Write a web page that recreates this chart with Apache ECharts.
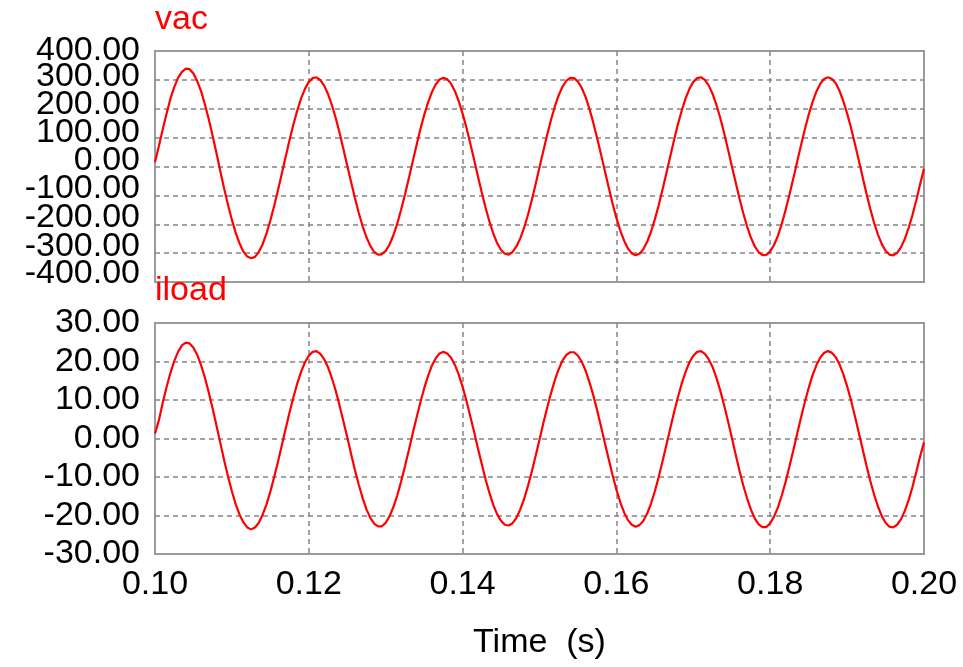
<!DOCTYPE html>
<html>
<head>
<meta charset="utf-8">
<script src="https://cdn.jsdelivr.net/npm/echarts@6/dist/echarts.min.js"></script>
<style>
  html, body { margin: 0; padding: 0; background: #fff; }
  #main { width: 963px; height: 667px; }
</style>
</head>
<body>
<div id="main"></div>
<script>
// Simulation time base (s), one sample every 0.5 ms
const timeS = [
  0.1000,0.1005,0.1010,0.1015,0.1020,0.1025,0.1030,0.1035,0.1040,0.1045,
  0.1050,0.1055,0.1060,0.1065,0.1070,0.1075,0.1080,0.1085,0.1090,0.1095,
  0.1100,0.1105,0.1110,0.1115,0.1120,0.1125,0.1130,0.1135,0.1140,0.1145,
  0.1150,0.1155,0.1160,0.1165,0.1170,0.1175,0.1180,0.1185,0.1190,0.1195,
  0.1200,0.1205,0.1210,0.1215,0.1220,0.1225,0.1230,0.1235,0.1240,0.1245,
  0.1250,0.1255,0.1260,0.1265,0.1270,0.1275,0.1280,0.1285,0.1290,0.1295,
  0.1300,0.1305,0.1310,0.1315,0.1320,0.1325,0.1330,0.1335,0.1340,0.1345,
  0.1350,0.1355,0.1360,0.1365,0.1370,0.1375,0.1380,0.1385,0.1390,0.1395,
  0.1400,0.1405,0.1410,0.1415,0.1420,0.1425,0.1430,0.1435,0.1440,0.1445,
  0.1450,0.1455,0.1460,0.1465,0.1470,0.1475,0.1480,0.1485,0.1490,0.1495,
  0.1500,0.1505,0.1510,0.1515,0.1520,0.1525,0.1530,0.1535,0.1540,0.1545,
  0.1550,0.1555,0.1560,0.1565,0.1570,0.1575,0.1580,0.1585,0.1590,0.1595,
  0.1600,0.1605,0.1610,0.1615,0.1620,0.1625,0.1630,0.1635,0.1640,0.1645,
  0.1650,0.1655,0.1660,0.1665,0.1670,0.1675,0.1680,0.1685,0.1690,0.1695,
  0.1700,0.1705,0.1710,0.1715,0.1720,0.1725,0.1730,0.1735,0.1740,0.1745,
  0.1750,0.1755,0.1760,0.1765,0.1770,0.1775,0.1780,0.1785,0.1790,0.1795,
  0.1800,0.1805,0.1810,0.1815,0.1820,0.1825,0.1830,0.1835,0.1840,0.1845,
  0.1850,0.1855,0.1860,0.1865,0.1870,0.1875,0.1880,0.1885,0.1890,0.1895,
  0.1900,0.1905,0.1910,0.1915,0.1920,0.1925,0.1930,0.1935,0.1940,0.1945,
  0.1950,0.1955,0.1960,0.1965,0.1970,0.1975,0.1980,0.1985,0.1990,0.1995,
  0.2000
];

// Source voltage vac (V)
const vac = [
  15,70,128,183,234,275,307,328,339,337,
  322,295,260,214,163,106,46,-17,-77,-133,
  -185,-230,-267,-295,-312,-318,-313,-296,-269,-232,
  -187,-136,-81,-23,35,92,146,194,236,269,
  293,306,309,299,280,251,213,168,117,61,
  3,-54,-109,-161,-207,-245,-275,-296,-305,-304,
  -292,-270,-238,-198,-150,-98,-42,16,73,128,
  178,221,257,284,301,307,302,287,261,226,
  183,134,80,23,-35,-91,-144,-192,-233,-266,
  -289,-302,-305,-296,-277,-249,-212,-167,-116,-61,
  -3,54,110,162,208,247,277,297,307,306,
  294,272,240,199,151,98,42,-16,-73,-128,
  -178,-221,-257,-284,-301,-307,-302,-287,-261,-226,
  -183,-134,-80,-23,35,92,146,194,236,269,
  293,306,309,300,281,252,214,169,117,61,
  3,-54,-110,-162,-208,-247,-277,-297,-307,-306,
  -294,-272,-240,-199,-151,-98,-42,16,73,128,
  179,223,259,286,303,309,304,289,263,227,
  184,135,80,23,-35,-92,-145,-194,-235,-268,
  -292,-305,-308,-299,-280,-251,-213,-168,-117,-61,
  -8
];

// Load current iload (A)
const iload = [
  1.3,4.7,9.2,13.3,17.0,20.1,22.5,24.2,24.9,24.7,
  23.6,21.7,19.0,15.7,11.9,7.7,3.3,-1.2,-5.7,-9.9,
  -13.7,-17.1,-19.8,-21.8,-23.1,-23.6,-23.1,-21.9,-19.8,-17.1,
  -13.8,-10.0,-6.0,-1.7,2.6,6.8,10.7,14.3,17.3,19.8,
  21.5,22.5,22.7,22.0,20.6,18.5,15.7,12.4,8.6,4.5,
  0.3,-4.0,-8.2,-12.0,-15.5,-18.4,-20.6,-22.1,-22.8,-22.8,
  -21.9,-20.2,-17.8,-14.8,-11.2,-7.3,-3.1,1.2,5.3,9.3,
  13.0,16.2,18.9,20.8,22.1,22.5,22.1,21.0,19.1,16.6,
  13.4,9.8,5.8,1.7,-2.6,-6.7,-10.7,-14.2,-17.3,-19.7,
  -21.4,-22.4,-22.6,-22.0,-20.6,-18.4,-15.7,-12.3,-8.6,-4.5,
  -0.3,4.0,8.0,11.8,15.2,18.0,20.3,21.7,22.4,22.4,
  21.5,19.9,17.6,14.6,11.2,7.3,3.1,-1.2,-5.4,-9.5,
  -13.3,-16.5,-19.2,-21.2,-22.4,-22.9,-22.5,-21.4,-19.5,-16.9,
  -13.7,-10.0,-5.9,-1.7,2.6,6.8,10.7,14.3,17.3,19.8,
  21.5,22.5,22.7,22.0,20.6,18.6,15.8,12.5,8.7,4.6,
  0.3,-4.1,-8.3,-12.2,-15.6,-18.5,-20.8,-22.3,-23.0,-23.0,
  -22.0,-20.3,-17.9,-14.8,-11.3,-7.3,-3.1,1.2,5.4,9.4,
  13.1,16.4,19.0,21.0,22.2,22.7,22.3,21.2,19.3,16.7,
  13.6,10.0,5.9,1.7,-2.6,-6.9,-10.9,-14.5,-17.6,-20.1,
  -21.9,-22.9,-23.1,-22.4,-21.0,-18.8,-16.0,-12.6,-8.7,-4.6,
  -1.0
];

const panelTitles = ['vac', 'iload'];
const xAxisName = 'Time  (s)';

// Crowded voltage labels sit slightly above their grid lines (px up per tick value)
const vacLabelLift = { '400': 0, '300': 3, '200': 4, '100': 5, '0': 6, '-100': 7, '-200': 7, '-300': 7, '-400': 8 };

const FONT = '"Liberation Sans", Arial, Helvetica, sans-serif';
const RED = '#ff0000';

const pairs = (ys) => timeS.map((t, i) => [t, ys[i]]);

// Bottom padding raises each voltage label by n px.
const liftRich = {};
for (let n = 0; n <= 10; n++) {
  liftRich['l' + n] = { padding: [0, 0, 2 * n, 0], lineHeight: 4, fontSize: 34, fontFamily: FONT, color: '#000' };
}

// The voltage labels are stacked tighter than their own height, so they are
// split over two label-only axes (even / odd hundreds) to keep every one visible.
function vacLabel(evenHundreds) {
  return (v) => {
    const even = Math.round(v / 100) % 2 === 0;
    if (even !== evenHundreds) return '';
    return '{l' + (vacLabelLift[String(v)] || 0) + '|' + v.toFixed(2) + '}';
  };
}

const gridLine = { type: [5, 4], color: '#858585', width: 1.5 };

function xAxisFor(idx, withLabels) {
  return {
    gridIndex: idx, type: 'value', min: 0.1, max: 0.2, interval: 0.02,
    axisLine: { show: false }, axisTick: { show: false },
    splitLine: { show: true, showMinLine: false, showMaxLine: false, lineStyle: gridLine },
    axisLabel: withLabels ? {
      show: true, margin: 14, fontSize: 34, fontFamily: FONT, color: '#000',
      showMinLabel: true, showMaxLabel: true, hideOverlap: false,
      formatter: (v) => v.toFixed(2)
    } : { show: false },
    name: withLabels ? xAxisName : '',
    nameLocation: 'middle', nameGap: 72,
    nameTextStyle: { fontSize: 34, fontFamily: FONT, color: '#000' }
  };
}

function yAxisFor(idx, lo, hi, step, label, withSplit) {
  return {
    gridIndex: idx, type: 'value', position: 'left', offset: 0,
    min: lo, max: hi, interval: step,
    axisLine: { show: false }, axisTick: { show: false },
    splitLine: { show: withSplit, showMinLine: false, showMaxLine: false, lineStyle: gridLine },
    axisLabel: Object.assign({
      margin: 15, fontSize: 34, fontFamily: FONT, color: '#000',
      showMinLabel: true, showMaxLabel: true, hideOverlap: false
    }, label)
  };
}

const chart = echarts.init(document.getElementById('main'), null, { renderer: 'canvas' });

chart.setOption({
  animation: false,
  backgroundColor: '#fff',
  grid: [
    { left: 155, top: 51, width: 769, height: 231, show: true, borderColor: '#9a9a9a', borderWidth: 2, backgroundColor: '#fff' },
    { left: 155, top: 323, width: 769, height: 231, show: true, borderColor: '#9a9a9a', borderWidth: 2, backgroundColor: '#fff' }
  ],
  xAxis: [xAxisFor(0, false), xAxisFor(1, true)],
  yAxis: [
    yAxisFor(0, -400, 400, 100, { lineHeight: 4, formatter: vacLabel(true), rich: liftRich }, true),
    yAxisFor(1, -30, 30, 10, { formatter: (v) => v.toFixed(2) }, true),
    yAxisFor(0, -400, 400, 100, { lineHeight: 4, formatter: vacLabel(false), rich: liftRich }, false)
  ],
  series: [
    {
      name: panelTitles[0], type: 'line', xAxisIndex: 0, yAxisIndex: 0,
      data: pairs(vac), showSymbol: false,
      lineStyle: { color: RED, width: 2.2 }
    },
    {
      name: panelTitles[1], type: 'line', xAxisIndex: 1, yAxisIndex: 1,
      data: pairs(iload), showSymbol: false,
      lineStyle: { color: RED, width: 2.2 }
    }
  ],
  graphic: [
    { type: 'text', left: 155, top: 3, z: 100,
      style: { text: panelTitles[0], fill: RED, font: '34px ' + FONT } },
    { type: 'text', left: 155, top: 274, z: 100,
      style: { text: panelTitles[1], fill: RED, font: '34px ' + FONT } }
  ]
});
</script>
</body>
</html>
